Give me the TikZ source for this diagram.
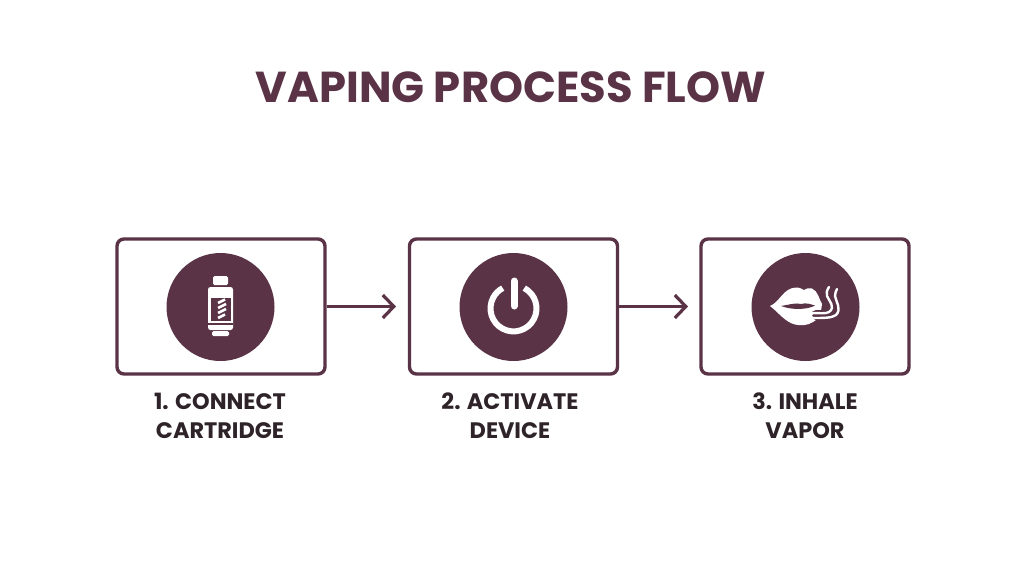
\documentclass[tikz,border=0pt]{standalone}
\usepackage{fontspec}
\setmainfont{Poppins}
\usetikzlibrary{arrows.meta}
\definecolor{plum}{HTML}{5A3347}
\definecolor{inkdark}{HTML}{2E2328}
\tikzset{
  stepbox/.style={draw=plum,line width=3.4pt,rounded corners=7pt,minimum width=208pt,minimum height=135pt,inner sep=0pt,fill=white},
  disc/.style={circle,fill=plum,minimum size=108pt,inner sep=0pt},
  steplabel/.style={align=center,font=\fontsize{22.4}{29}\selectfont\bfseries,text=inkdark,inner sep=0pt},
  flow/.style={draw=plum,line width=3.2pt,-{Straight Barb[length=11pt,width=23pt,line width=3.2pt]}},
  icon/.style={fill=white,draw=none},
  smoke/.style={draw=white,line width=2.4pt,line cap=round}
}
\begin{document}
\begin{tikzpicture}[x=1pt,y=-1pt]
\useasboundingbox (0,0) rectangle (1024,576);
\node[font=\fontsize{43.3}{48}\selectfont\bfseries,text=plum,inner sep=0pt] (title) at (511,87) {VAPING PROCESS FLOW};
\node[stepbox] (b1) at (221,306.5) {};
\node[stepbox] (b2) at (513.5,306.5) {};
\node[stepbox] (b3) at (805,306.5) {};
\coordinate (t1) at (396,306.5);
\coordinate (t2) at (688,306.5);
\draw[flow] (b1.east) -- (t1);
\draw[flow] (b2.east) -- (t2);
\node[disc] (c1) at (220.5,307) {};
\node[disc] (c2) at (513.5,307) {};
\node[disc] (c3) at (805.5,307) {};
\node[steplabel] (l1) at (220,416) {1. CONNECT\\CARTRIDGE};
\node[steplabel] (l2) at (510,416) {2. ACTIVATE\\DEVICE};
\node[steplabel] (l3) at (805,416) {3. INHALE\\VAPOR};
% cartridge icon
\fill[icon,rounded corners=1.5pt] (213,276) rectangle (228,285);
\fill[icon,rounded corners=2.5pt] (208,287) rectangle (233,330);
\fill[icon,rounded corners=1.5pt] (212,331) rectangle (229,336);
\fill[plum] (211,298) rectangle (231,321);
\fill[plum] (208,322.5) rectangle (233,324.5);
\draw[white,line width=2.6pt] (218,303) -- (225,299.5);
\draw[white,line width=2.6pt] (218,308) -- (226,304);
\draw[white,line width=2.6pt] (218,313) -- (226,309);
\draw[white,line width=2.6pt] (218,318) -- (225,314.5);
% power icon
\draw[white,line width=6pt] (524.3,288.1) arc[start angle=298,end angle=602,radius=23];
\draw[plum,line width=13pt,line cap=round] (514,281) -- (514,306);
\draw[white,line width=7pt,line cap=round] (514,281) -- (514,306);
% lips icon
\fill[icon] (770,306) .. controls (780,302) and (783,288) .. (796,287.5) .. controls (800,287.5) and (802,289) .. (804,290) .. controls (806,288.5) and (809,287.5) .. (812,288.5) .. controls (818,291) and (819,299) .. (822,304) .. controls (821,312) and (820,318) .. (813,322) .. controls (807,326) and (800,325.5) .. (795,324.5) .. controls (785,322) and (778,312) .. (770,306) -- cycle;
\fill[plum] (781,306) .. controls (790,304.5) and (796,302.5) .. (801,304) .. controls (806,302.5) and (810,304) .. (815,305.5) .. controls (808,309.5) and (793,310.5) .. (781,306) -- cycle;
\draw[plum,line width=10pt,line cap=round] (816,315) -- (832,315);
\draw[smoke] (813,313) .. controls (819,313) and (826,314) .. (829,312) .. controls (836,307) and (829,301) .. (827,296) .. controls (826,293) and (827,290) .. (829,287);
\draw[smoke] (813,318) .. controls (824,318) and (832,318) .. (836,315) .. controls (842,309) and (836,302) .. (835,296) .. controls (835,293) and (836,291) .. (837,289);
\draw[smoke] (813,313) .. controls (810,314.5) and (810,317) .. (813,318);
\end{tikzpicture}
\end{document}
